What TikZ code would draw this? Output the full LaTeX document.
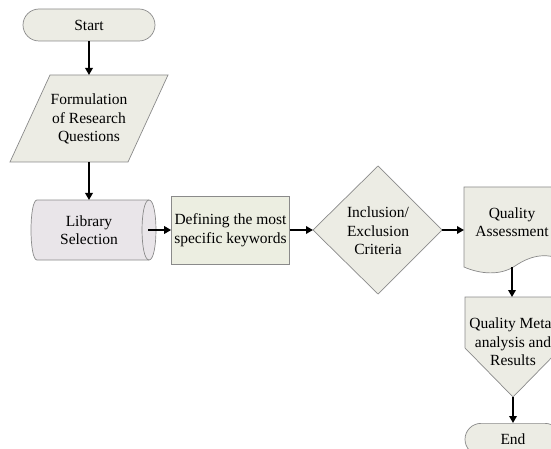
\documentclass[tikz,border=0pt]{standalone}
\usepackage{fontspec}
\setmainfont{Liberation Serif}
\usetikzlibrary{arrows.meta}
\definecolor{fillA}{HTML}{ECECE4}
\definecolor{fillB}{HTML}{E9E5E9}
\definecolor{fillC}{HTML}{ECEEE1}
\definecolor{edgec}{HTML}{8A8A8A}
\tikzset{
  shp/.style={draw=edgec, line width=0.7pt, fill=fillA},
  lbl/.style={font=\fontsize{15.5}{18.5}\selectfont, align=center, inner sep=0pt},
  box/.style={inner sep=0pt, outer sep=0pt},
  arr/.style={line width=1.8pt, -{Triangle[length=7pt,width=7.5pt]}},
}
\begin{document}
\begin{tikzpicture}[x=1pt,y=-1pt]
\useasboundingbox (0,0) rectangle (551,449);
\clip (0,0) rectangle (551,449);
% Start
\node[shp, rounded corners=16pt, minimum width=132pt, minimum height=32pt, lbl] (start) at (89,25) {Start};
% Formulation (parallelogram)
\draw[shp] (50,75) -- (168,75) -- (128,162) -- (10,162) -- cycle;
\node[box, minimum width=158pt, minimum height=87pt] (form) at (89,118.5) {};
\node[lbl] (formt) at (89,119) {Formulation\\of Research\\Questions};
% Library selection (cylinder)
\draw[shp, fill=fillB] (37,200) .. controls (29,200) and (29,260) .. (37,260) -- (149,260)
  .. controls (158.3,260) and (158.3,200) .. (149,200) -- cycle;
\draw[draw=edgec, line width=0.7pt] (149,200) .. controls (139.7,200) and (139.7,260) .. (149,260);
\node[box, minimum width=118pt, minimum height=60pt] (lib) at (89,230) {};
\node[lbl] (libt) at (89,230) {Library\\Selection};
% Defining keywords
\node[shp, fill=fillC, minimum width=118pt, minimum height=68pt, lbl] (def) at (230.5,230) {Defining the most\\specific keywords};
% Inclusion / exclusion diamond
\draw[shp] (313,230) -- (378,166) -- (442,230) -- (378,294) -- cycle;
\node[box, minimum width=129pt, minimum height=128pt] (crit) at (377.5,230) {};
\node[lbl] (critt) at (378,231) {Inclusion/\\Exclusion\\Criteria};
% Quality assessment (document)
\draw[shp] (464,187) -- (563,187) -- (563,260) .. controls (545,252) and (530,256) .. (515,266)
  .. controls (500,276) and (480,274) .. (464,267) -- cycle;
\node[box, minimum width=99pt, minimum height=81pt] (qa) at (513.5,227.5) {};
\node[lbl] (qat) at (512,222) {Quality\\Assessment};
% Quality meta-analysis (off-page connector)
\draw[shp] (465,297) -- (561,297) -- (561,348) -- (513,397) -- (465,348) -- cycle;
\node[box, minimum width=96pt, minimum height=100pt] (meta) at (513,347) {};
\node[lbl] (metat) at (513,342) {Quality Meta-\\analysis and\\Results};
% End
\node[shp, rounded corners=16pt, minimum width=96pt, minimum height=32pt, lbl, anchor=north] (end) at (513,423) {End};
% connectors
\draw[arr] (start.south) -- (form.north);
\draw[arr] (form.south) -- (lib.north);
\draw[arr] (lib.east) -- (def.west);
\draw[arr] (def.east) -- (crit.west);
\draw[arr] (crit.east) -- (qa.west |- crit.east);
\draw[arr] (512,267) coordinate (qab) -- (qab |- meta.north);
\draw[arr] (meta.south) -- (end.north);
\end{tikzpicture}
\end{document}
